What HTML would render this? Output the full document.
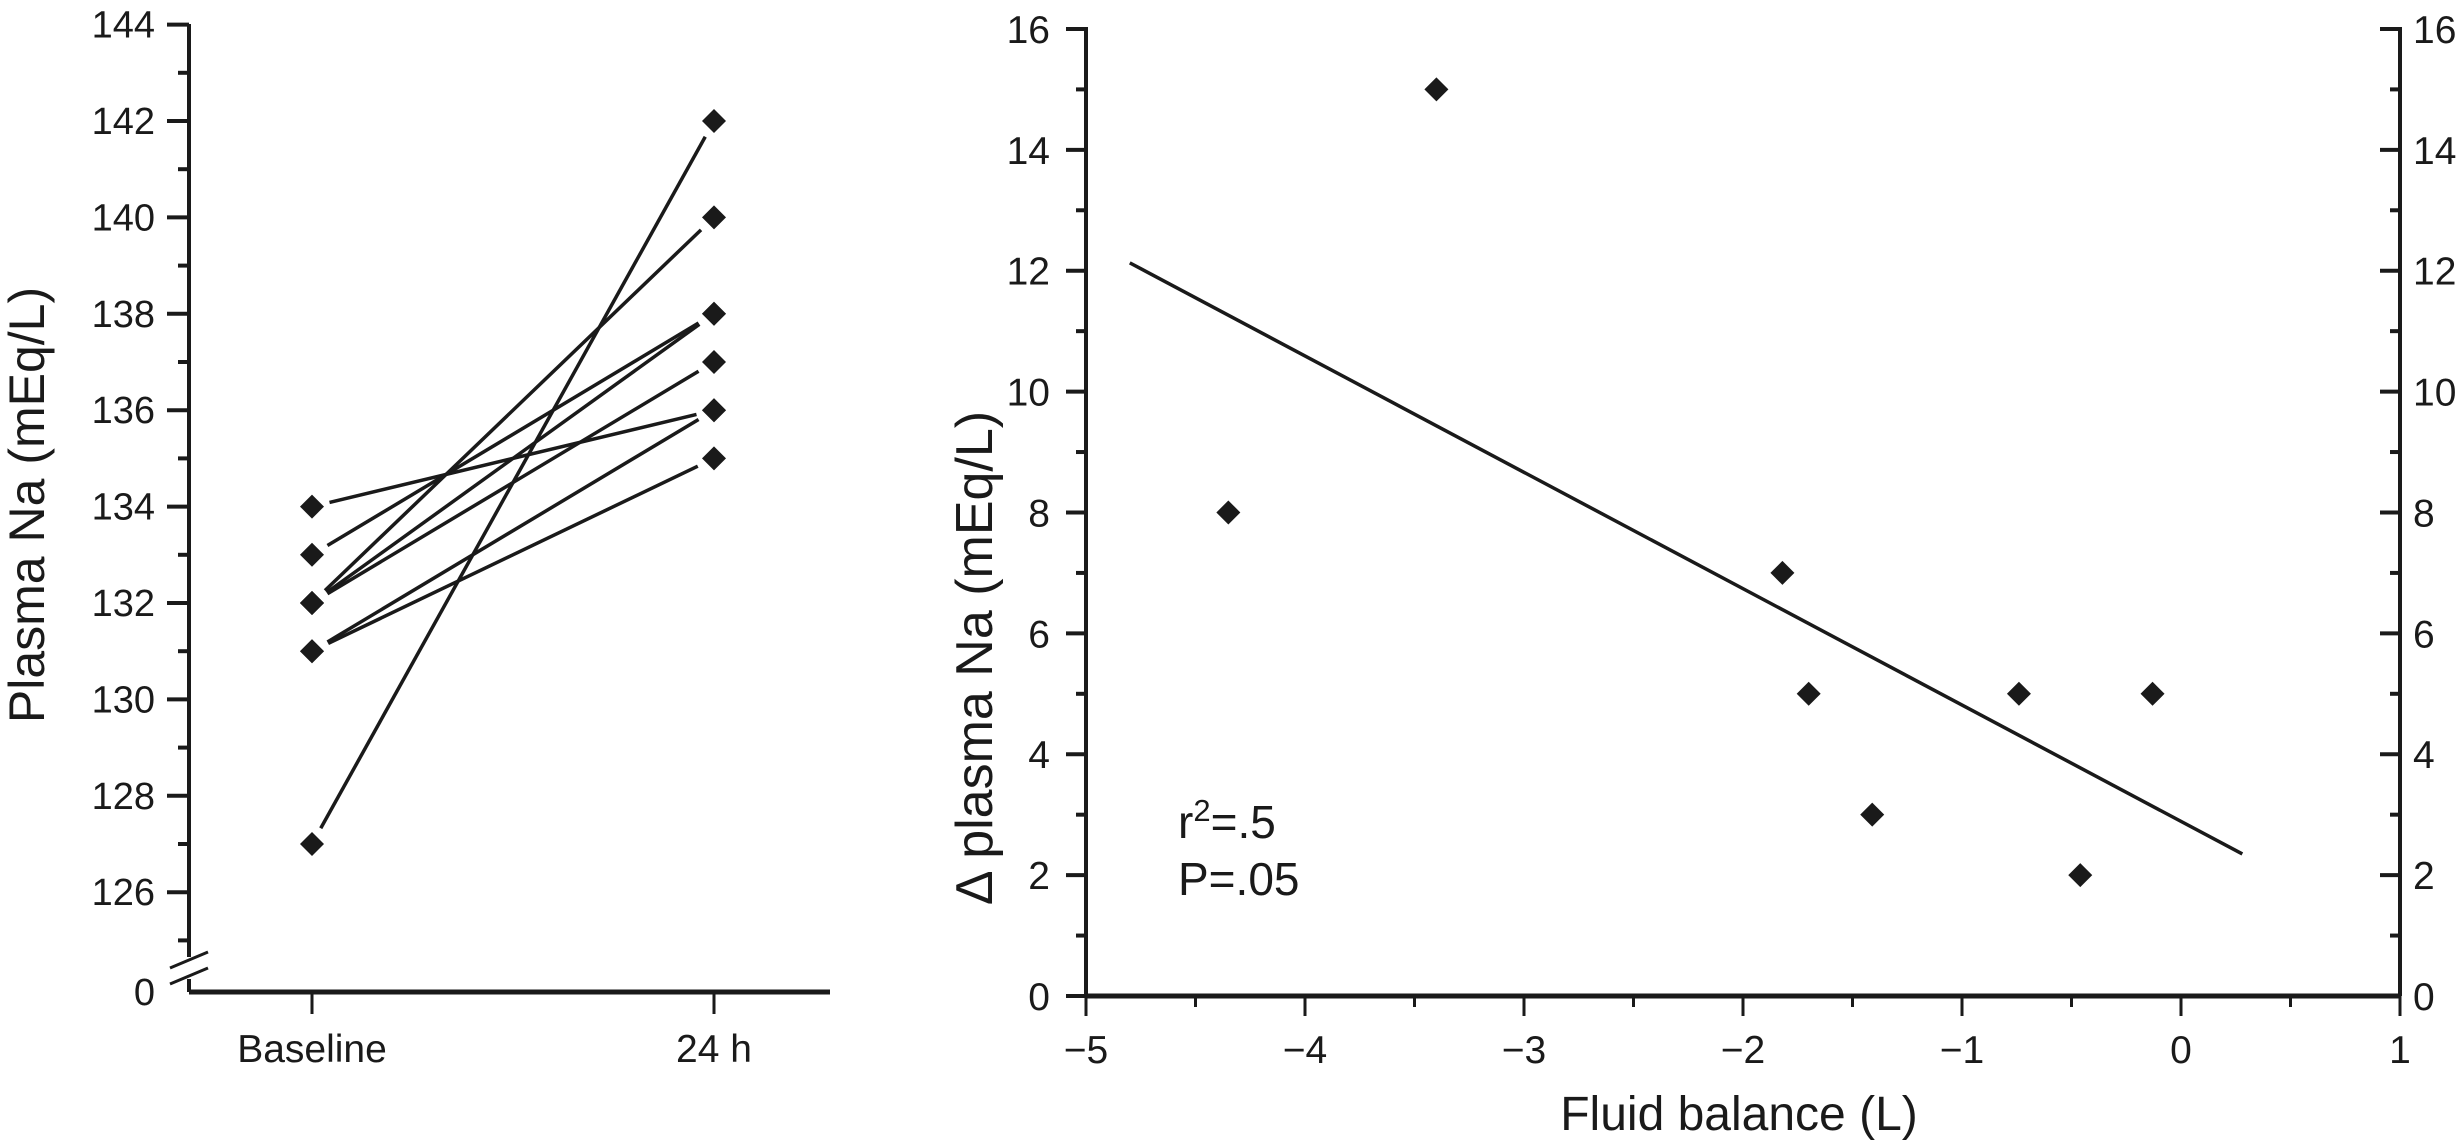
<!DOCTYPE html>
<html><head><meta charset="utf-8"><style>
html,body{margin:0;padding:0;background:#fff;}
svg{display:block;font-family:"Liberation Sans",Arial,sans-serif;fill:#1a1a1a;}
</style></head><body>
<svg id="fig" width="2460" height="1140" viewBox="0 0 2460 1140" xmlns="http://www.w3.org/2000/svg">
<g id="left"></g>
<g id="right"></g>
</svg>
<script>
// ---- Left chart data ----
const leftCategories = ["Baseline", "24 h"];
const baselineValues = [134, 133, 132, 132, 132, 131, 131, 127];
const after24hValues = [136, 138, 140, 138, 137, 136, 135, 142];
const leftYTicks = [126, 128, 130, 132, 134, 136, 138, 140, 142, 144];

// ---- Right chart data ----
const fluidBalance = [-4.35, -3.40, -1.82, -1.70, -1.41, -0.74, -0.46, -0.13];
const deltaNa = [8, 15, 7, 5, 3, 5, 2, 5];
const fitStart = [-4.8, 12.13];
const fitEnd = [0.28, 2.35];
const rightXTicks = [-5, -4, -3, -2, -1, 0, 1];
const rightYTicks = [0, 2, 4, 6, 8, 10, 12, 14, 16];

const NS = "http://www.w3.org/2000/svg";
function mk(parent, tag, attrs, text) {
  const e = document.createElementNS(NS, tag);
  for (const k in attrs) e.setAttribute(k, attrs[k]);
  if (text !== undefined) e.textContent = text;
  parent.appendChild(e);
  return e;
}
const STK = "#1a1a1a";
function diamond(g, cx, cy, name) {
  const p = mk(g, "polygon", {points: `${cx},${cy-12} ${cx+12},${cy} ${cx},${cy+12} ${cx-12},${cy}`, fill: STK});
  
  
}

// ===== Left chart =====
const L = document.getElementById("left");
const lx = i => [312, 714][i];
const ly = v => 121 + (142 - v) * 48.2;
const axisY0 = 992;
let e = mk(L, "line", {x1:189, y1:24, x2:189, y2:957, stroke:STK, "stroke-width":4});
 
e = mk(L, "line", {x1:189, y1:979, x2:189, y2:axisY0, stroke:STK, "stroke-width":4});
 
e = mk(L, "line", {x1:170, y1:968, x2:208, y2:952, stroke:STK, "stroke-width":3});
 
e = mk(L, "line", {x1:170, y1:984, x2:208, y2:968, stroke:STK, "stroke-width":3});
 
e = mk(L, "line", {x1:189, y1:axisY0, x2:830, y2:axisY0, stroke:STK, "stroke-width":5});
 
for (let v = 125; v <= 144; v++) {
  const major = leftYTicks.includes(v);
  e = mk(L, "line", {x1: major ? 167 : 178, y1: ly(v), x2: 189, y2: ly(v), stroke:STK, "stroke-width":4});
   
}
leftYTicks.forEach(v => {
  const t = mk(L, "text", {x:155, y:ly(v)+13, "font-size":38, "text-anchor":"end"}, String(v));
   
});
e = mk(L, "text", {x:155, y:axisY0+13, "font-size":38, "text-anchor":"end"}, "0");
 
leftCategories.forEach((c, i) => {
  let tk = mk(L, "line", {x1:lx(i), y1:axisY0, x2:lx(i), y2:axisY0+22, stroke:STK, "stroke-width":3});
   
  const t = mk(L, "text", {x:lx(i), y:1062, "font-size":39, "text-anchor":"middle"}, c);
   
});
e = mk(L, "text", {x:0, y:0, "font-size":50, "text-anchor":"middle", transform:"translate(44,505) rotate(-90)"}, "Plasma Na (mEq/L)");
 
baselineValues.forEach((b, i) => {
  const a = after24hValues[i];
  const x1 = lx(0), y1 = ly(b), x2 = lx(1), y2 = ly(a);
  const dx = x2 - x1, dy = y2 - y1, len = Math.hypot(dx, dy), g = 18;
  const ln = mk(L, "line", {x1: x1 + dx*g/len, y1: y1 + dy*g/len, x2: x2 - dx*g/len, y2: y2 - dy*g/len, stroke:STK, "stroke-width":3.5});
   
});
baselineValues.forEach(b => diamond(L, lx(0), ly(b), 'baseline-point'));
after24hValues.forEach(a => diamond(L, lx(1), ly(a), 'after-24h-point'));

// ===== Right chart =====
const R = document.getElementById("right");
const rx = v => 1086 + (v + 5) * 219;
const ry = v => 996 - v * 60.44;
e = mk(R, "line", {x1:1086, y1:ry(16)-2, x2:1086, y2:996, stroke:STK, "stroke-width":4});
 
e = mk(R, "line", {x1:2400, y1:ry(16)-2, x2:2400, y2:996, stroke:STK, "stroke-width":4});
 
e = mk(R, "line", {x1:1086, y1:996, x2:2400, y2:996, stroke:STK, "stroke-width":5});
 
for (let v = 0; v <= 16; v++) {
  const major = v % 2 === 0;
  const L1 = major ? 20 : 10;
  e = mk(R, "line", {x1:1086-L1, y1:ry(v), x2:1086, y2:ry(v), stroke:STK, "stroke-width":4});
   
  e = mk(R, "line", {x1:2400-L1, y1:ry(v), x2:2400, y2:ry(v), stroke:STK, "stroke-width":4});
   
}
rightYTicks.forEach(v => {
  let t = mk(R, "text", {x:1050, y:ry(v)+14, "font-size":39, "text-anchor":"end"}, String(v));
   
  t = mk(R, "text", {x:2413, y:ry(v)+14, "font-size":39, "text-anchor":"start"}, String(v));
   
});
for (let v = -5; v <= 1.001; v += 0.5) {
  const major = Math.abs(v - Math.round(v)) < 1e-6;
  e = mk(R, "line", {x1:rx(v), y1:996, x2:rx(v), y2:996 + (major ? 20 : 11), stroke:STK, "stroke-width":3});
   
}
rightXTicks.forEach(v => {
  const t = mk(R, "text", {x:rx(v), y:1063, "font-size":39, "text-anchor":"middle"}, v < 0 ? "\u2212" + Math.abs(v) : String(v));
   
});
e = mk(R, "text", {x:1739, y:1130, "font-size":48, "text-anchor":"middle"}, "Fluid balance (L)");
 
e = mk(R, "text", {x:0, y:0, "font-size":52, "text-anchor":"middle", transform:"translate(992,658) rotate(-90)"}, "\u0394 plasma Na (mEq/L)");
 
e = mk(R, "line", {x1:rx(fitStart[0]), y1:ry(fitStart[1]), x2:rx(fitEnd[0]), y2:ry(fitEnd[1]), stroke:STK, "stroke-width":3.5});
 
fluidBalance.forEach((x, i) => diamond(R, rx(x), ry(deltaNa[i]), 'scatter-point'));
const ann = mk(R, "text", {x:1178, y:838, "font-size":46});
 
mk(ann, "tspan", {}, "r");
mk(ann, "tspan", {dy:-17, "font-size":31}, "2");
mk(ann, "tspan", {dy:17}, "=.5");
e = mk(R, "text", {x:1178, y:895, "font-size":46}, "P=.05");
 
</script>
</body></html>
